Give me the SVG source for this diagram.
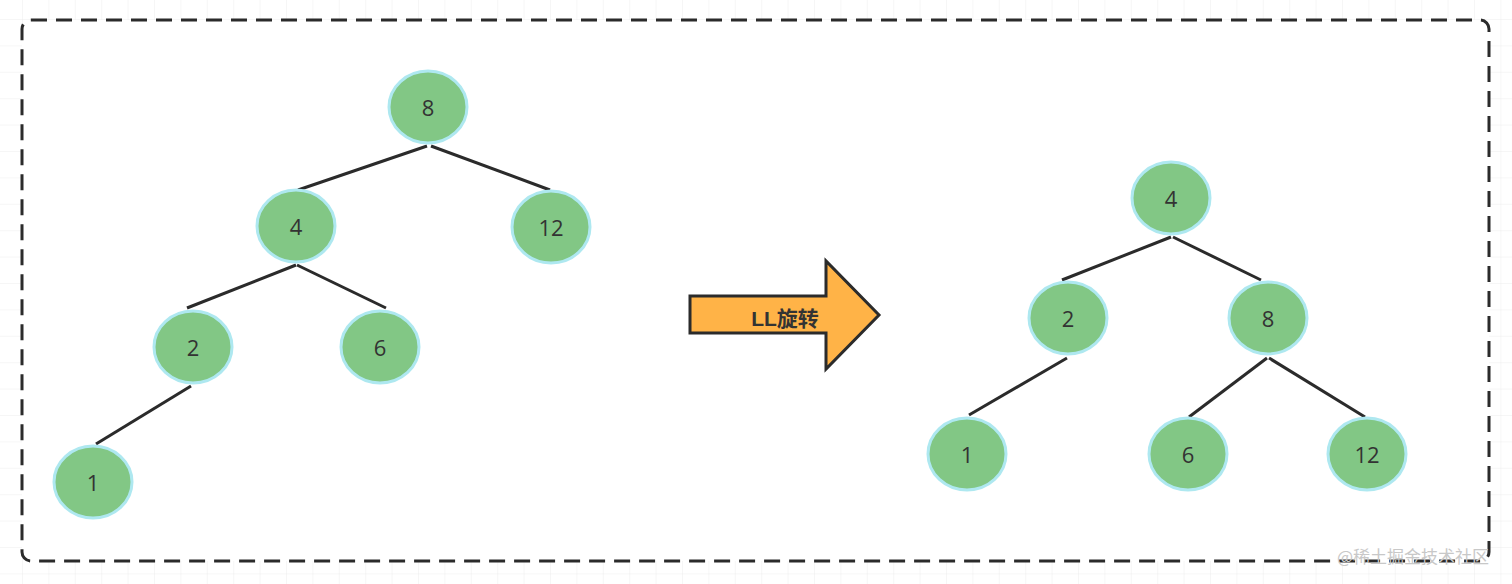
<svg xmlns="http://www.w3.org/2000/svg" width="1512" height="584" viewBox="0 0 1512 584">
<defs>
<pattern id="grid" x="22" y="19" width="26.4" height="26.4" patternUnits="userSpaceOnUse">
<path d="M0 0H26.4M0 0V26.4" fill="none" stroke="#ededed" stroke-width="1"/>
</pattern>
<style>
.node ellipse{fill:#82c785;stroke:#aee8f0;stroke-width:3}
.node text{font-family:"Open Sans","Noto Sans",sans-serif;font-size:22px;fill:#333;text-anchor:middle;dominant-baseline:central}
.edge{stroke:#2b2b2b;stroke-width:3;fill:none}
</style>
</defs>
<rect width="1512" height="584" fill="#fff"/>
<rect width="1512" height="584" fill="url(#grid)"/>
<rect x="22" y="20" width="1467" height="541" rx="9" fill="#fff" stroke="#2b2b2b" stroke-width="3" stroke-dasharray="16 9"/>
<g id="connectors">
<line class="edge" x1="427" y1="146" x2="298" y2="190"/>
<line class="edge" x1="431" y1="146" x2="550" y2="190"/>
<line class="edge" x1="296" y1="265" x2="187" y2="308"/>
<line class="edge" x1="297" y1="265" x2="386" y2="308"/>
<line class="edge" x1="191" y1="386" x2="96" y2="444"/>
<line class="edge" x1="1171" y1="237" x2="1062" y2="280"/>
<line class="edge" x1="1173" y1="237" x2="1261" y2="280"/>
<line class="edge" x1="1067" y1="358" x2="969" y2="415"/>
<line class="edge" x1="1267" y1="358" x2="1189" y2="417"/>
<line class="edge" x1="1269" y1="358" x2="1365" y2="417"/>
</g>
<g id="n8" class="node"><ellipse cx="428" cy="107" rx="39" ry="36"/><text x="428" y="107">8</text></g>
<g id="n4" class="node"><ellipse cx="296" cy="226" rx="39" ry="36"/><text x="296" y="226">4</text></g>
<g id="n12" class="node"><ellipse cx="551" cy="227" rx="39" ry="36"/><text x="551" y="227">12</text></g>
<g id="n2" class="node"><ellipse cx="193" cy="347" rx="39" ry="36"/><text x="193" y="347">2</text></g>
<g id="n6" class="node"><ellipse cx="380" cy="347" rx="39" ry="36"/><text x="380" y="347">6</text></g>
<g id="n1" class="node"><ellipse cx="93" cy="482" rx="39" ry="36"/><text x="93" y="482">1</text></g>
<g id="r4" class="node"><ellipse cx="1171" cy="198" rx="39" ry="36"/><text x="1171" y="198">4</text></g>
<g id="r2" class="node"><ellipse cx="1068" cy="318" rx="39" ry="36"/><text x="1068" y="318">2</text></g>
<g id="r8" class="node"><ellipse cx="1268" cy="318" rx="39" ry="36"/><text x="1268" y="318">8</text></g>
<g id="r1" class="node"><ellipse cx="967" cy="454" rx="39" ry="36"/><text x="967" y="454">1</text></g>
<g id="r6" class="node"><ellipse cx="1188" cy="454" rx="39" ry="36"/><text x="1188" y="454">6</text></g>
<g id="r12" class="node"><ellipse cx="1367" cy="454" rx="39" ry="36"/><text x="1367" y="454">12</text></g>
<g id="arrow">
<path d="M690 296H826V261L879 315L826 369V333H690Z" fill="#ffb347" stroke="#2b2b2b" stroke-width="3" stroke-linejoin="miter"/>
<text x="785" y="318" font-family="'Liberation Sans','Noto Sans CJK SC',sans-serif" font-weight="bold" font-size="21" fill="#333" text-anchor="middle" dominant-baseline="central">LL旋转</text>
</g>
<text x="1413" y="555" font-family="'Noto Sans CJK SC',sans-serif" font-size="17" fill="#c8c8c8" text-anchor="middle" dominant-baseline="central">@稀土掘金技术社区</text>
</svg>
